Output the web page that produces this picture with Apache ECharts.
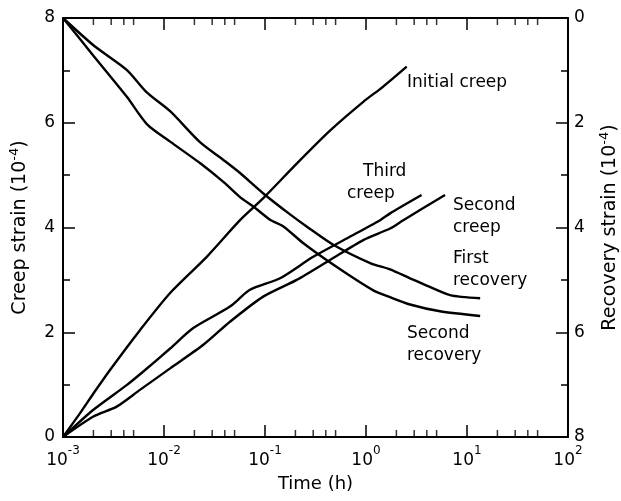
<!DOCTYPE html>
<html>
<head>
<meta charset="utf-8">
<script src="https://cdn.jsdelivr.net/npm/echarts@6/dist/echarts.min.js"></script>
<style>
html,body{margin:0;padding:0;background:#fff;}
#chart{width:621px;height:501px;}
</style>
</head>
<body>
<div id="chart"></div>
<script>
// ---- Data (time in hours, strain in 10^-4) ----
const initialCreepT = [0.001, 0.00147, 0.002, 0.00292, 0.00578, 0.0115, 0.0265, 0.0566, 0.0962, 0.206, 0.44, 0.94, 1.48, 2.53];
const initialCreepV = [0, 0.45, 0.83, 1.28, 2.04, 2.75, 3.44, 4.14, 4.56, 5.22, 5.85, 6.4, 6.69, 7.07];

const thirdCreepT = [0.001, 0.002, 0.00427, 0.00624, 0.0115, 0.0195, 0.045, 0.071, 0.141, 0.30, 0.644, 1.38, 1.73, 3.55];
const thirdCreepV = [0, 0.52, 0.99, 1.25, 1.69, 2.08, 2.49, 2.81, 3.03, 3.44, 3.79, 4.14, 4.27, 4.62];

const secondCreepT = [0.001, 0.002, 0.0034, 0.00578, 0.0115, 0.0245, 0.045, 0.096, 0.206, 0.44, 0.94, 1.73, 2.34, 6.06];
const secondCreepV = [0, 0.39, 0.58, 0.90, 1.31, 1.76, 2.2, 2.68, 3.0, 3.38, 3.76, 3.98, 4.14, 4.62];

const firstRecoveryT = [0.001, 0.002, 0.00427, 0.00675, 0.0115, 0.0227, 0.0387, 0.0566, 0.0962, 0.177, 0.258, 0.474, 1.1, 1.73, 2.73, 3.7, 6.8, 13.5];
const firstRecoveryR = [0, 0.52, 0.99, 1.42, 1.78, 2.37, 2.71, 2.96, 3.35, 3.75, 3.98, 4.33, 4.68, 4.80, 4.97, 5.08, 5.29, 5.35];

const secondRecoveryT = [0.001, 0.002, 0.00427, 0.0068, 0.0115, 0.0227, 0.0387, 0.0566, 0.0766, 0.112, 0.152, 0.24, 0.51, 1.18, 1.73, 2.73, 5.4, 13.5];
const secondRecoveryR = [0, 0.72, 1.5, 2.03, 2.36, 2.77, 3.13, 3.42, 3.6, 3.85, 3.98, 4.3, 4.75, 5.2, 5.33, 5.47, 5.6, 5.69];

const minorTickValues = [0.002,0.003,0.004,0.005, 0.02,0.03,0.04,0.05, 0.2,0.3,0.4,0.5, 2,3,4,5, 20,30,40,50];

const annotations = [
  {text: 'Initial creep', x: 407, y: 83},
  {text: 'Third', x: 363, y: 172},
  {text: 'creep', x: 347, y: 194},
  {text: 'Second', x: 453, y: 206},
  {text: 'creep', x: 453, y: 228},
  {text: 'First', x: 453, y: 259},
  {text: 'recovery', x: 453, y: 281},
  {text: 'Second', x: 407, y: 334},
  {text: 'recovery', x: 407, y: 356}
];

const FONT = 'DejaVu Sans';
const pairs = (t, v) => t.map((x, i) => [x, v[i]]);

const chart = echarts.init(document.getElementById('chart'), null, {renderer: 'canvas'});

const lineSeries = (name, t, v, yIdx) => ({
  name, type: 'line', data: pairs(t, v), xAxisIndex: 0, yAxisIndex: yIdx,
  showSymbol: false, smooth: 0.25, lineStyle: {color: '#000', width: 2.4}, silent: true
});

const minorTickSeries = (yVal, offset) => ({
  type: 'scatter', xAxisIndex: 0, yAxisIndex: 0, silent: true, clip: false, z: 5,
  data: minorTickValues.map(v => [v, yVal]),
  symbol: 'rect', symbolSize: [1.5, 7], symbolOffset: [0, offset],
  itemStyle: {color: '#000'}
});

const supRich = {
  b: {fontFamily: FONT, fontSize: 17, color: '#000'},
  s: {fontFamily: FONT, fontSize: 12, color: '#000', padding: [0, 0, 20, 0]}
};
const nameRich = {
  n: {fontFamily: FONT, fontSize: 19, color: '#000'},
  s: {fontFamily: FONT, fontSize: 13, color: '#000', padding: [0, 0, 12, 0]}
};

const axisLineStyle = {color: '#000', width: 2};
const majorTick = {show: true, inside: true, length: 12, lineStyle: {color: '#000', width: 1.5}};

chart.setOption({
  animation: false,
  backgroundColor: '#fff',
  grid: {left: 63, right: 53, top: 18, bottom: 64, outerBoundsMode: 'none', containLabel: false},
  xAxis: [
    {
      type: 'log', logBase: 10, min: 0.001, max: 100, position: 'bottom',
      name: 'Time (h)', nameLocation: 'middle', nameGap: 38,
      nameTextStyle: {fontFamily: FONT, fontSize: 18, color: '#000'},
      axisLine: {lineStyle: axisLineStyle},
      axisTick: majorTick,
      axisLabel: {
        margin: 8, rich: supRich,
        formatter: v => '{b|10}{s|' + Math.round(Math.log10(v)) + '}'
      },
      splitLine: {show: false}
    },
    {
      type: 'log', logBase: 10, min: 0.001, max: 100, position: 'top',
      axisLine: {lineStyle: axisLineStyle},
      axisTick: majorTick,
      axisLabel: {show: false},
      splitLine: {show: false}
    }
  ],
  yAxis: [
    {
      type: 'value', min: 0, max: 8, interval: 2, position: 'left',
      name: '{n|Creep strain (10}{s|-4}{n|)}', nameLocation: 'middle', nameGap: 30, nameRotate: 90,
      nameTextStyle: {rich: nameRich},
      axisLine: {show: true, lineStyle: axisLineStyle},
      axisTick: majorTick,
      minorTick: {show: true, splitNumber: 2, length: 7, lineStyle: {color: '#000', width: 1.5}},
      axisLabel: {margin: 8, fontFamily: FONT, fontSize: 17, color: '#000'},
      splitLine: {show: false}
    },
    {
      type: 'value', min: 0, max: 8, interval: 2, position: 'right', inverse: true,
      name: '{n|Recovery strain (10}{s|-4}{n|)}', nameLocation: 'middle', nameGap: 30, nameRotate: 90,
      nameTextStyle: {rich: nameRich},
      axisLine: {show: true, lineStyle: axisLineStyle},
      axisTick: majorTick,
      minorTick: {show: true, splitNumber: 2, length: 7, lineStyle: {color: '#000', width: 1.5}},
      axisLabel: {margin: 6, fontFamily: FONT, fontSize: 17, color: '#000'},
      splitLine: {show: false}
    }
  ],
  series: [
    lineSeries('Initial creep', initialCreepT, initialCreepV, 0),
    lineSeries('Third creep', thirdCreepT, thirdCreepV, 0),
    lineSeries('Second creep', secondCreepT, secondCreepV, 0),
    lineSeries('First recovery', firstRecoveryT, firstRecoveryR, 1),
    lineSeries('Second recovery', secondRecoveryT, secondRecoveryR, 1),
    minorTickSeries(0, -3.5),
    minorTickSeries(8, 3.5)
  ],
  graphic: annotations.map(a => ({
    type: 'text', x: a.x, y: a.y, silent: true,
    style: {text: a.text, fontFamily: FONT, fontSize: 17, fill: '#000', textAlign: 'left', textVerticalAlign: 'middle'}
  }))
});
</script>
</body>
</html>
